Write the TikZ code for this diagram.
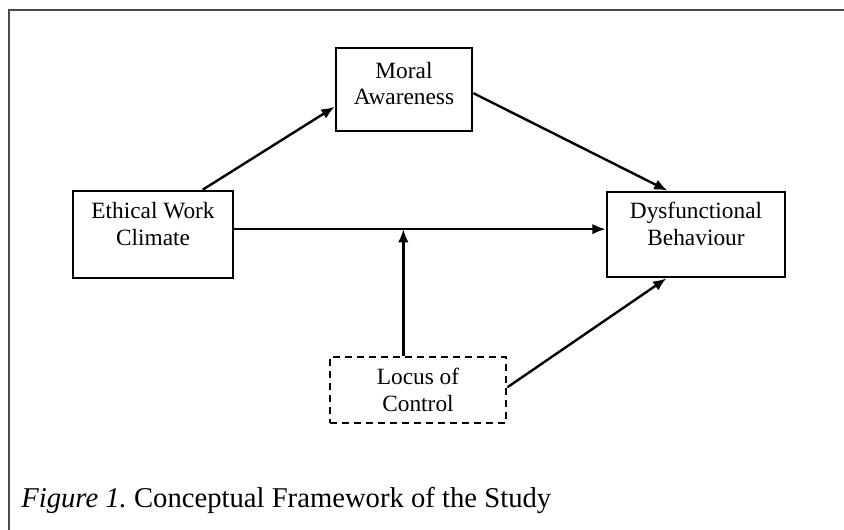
\documentclass[tikz,border=0pt]{standalone}
\usepackage{fontspec}
\setmainfont{Liberation Serif}
\usetikzlibrary{arrows.meta}
\frenchspacing
\tikzset{
    varbox/.style={draw, line width=2pt, align=center, inner sep=0pt,
        font=\fontsize{17.5}{20}\selectfont},
    conn/.style={line width=1.8pt, -{Latex[length=10pt,width=8pt]}},
}
\begin{document}
\begin{tikzpicture}[x=0.75pt, y=-0.75pt]
        \useasboundingbox (0,0) rectangle (844,530);
        \draw[gray!60!black, line width=0.9pt] (9,530) -- (9,10) -- (844,10);
        % variables
        \node[varbox, text depth=16pt, minimum width=160*0.75pt, minimum height=87*0.75pt] (ewc) at (153,234.5) {Ethical Work\\Climate};
        \node[varbox, text depth=9pt, minimum width=136*0.75pt, minimum height=83*0.75pt] (moral) at (404,89.5) {Moral\\Awareness};
        \node[varbox, text depth=16pt, minimum width=178*0.75pt, minimum height=85*0.75pt] (dysf) at (696,234.5) {Dysfunctional\\Behaviour};
        \node[varbox, dash pattern=on 5.5pt off 3.5pt, minimum width=176*0.75pt, minimum height=66*0.75pt] (locus) at (418,390) {Locus of\\Control};
        % paths
        \draw[conn] (ewc.42) -- (moral.194);
        \draw[conn] (moral.-3) -- (dysf.123);
        \draw[conn] ([yshift=4pt]ewc.east) coordinate (hline) -- ([yshift=4pt]dysf.west);
        \draw[conn] ([xshift=-11pt]locus.north) -- ([xshift=-11pt]locus.north |- hline);
        \draw[conn] ([yshift=2pt]locus.east) -- (dysf.236);
        % caption
        \node[anchor=base west, inner sep=0pt, font=\fontsize{21.5}{26}\selectfont] (caption) at (21,508) {\textit{Figure 1.} Conceptual Framework of the Study};
    \end{tikzpicture}
\end{document}
